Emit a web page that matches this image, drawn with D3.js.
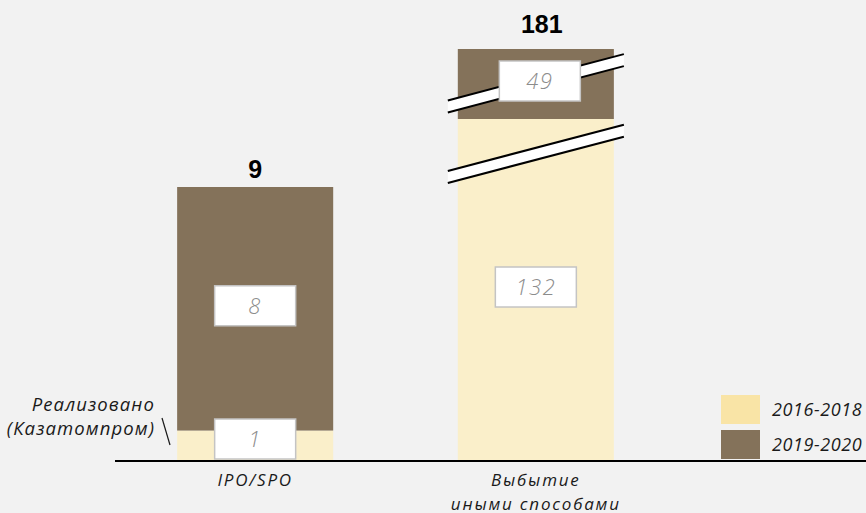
<!DOCTYPE html>
<html>
<head>
<meta charset="utf-8">
<script src="https://cdn.jsdelivr.net/npm/d3@7"></script>
<style>
  html, body { margin: 0; padding: 0; background: #f2f2f2; }
  svg { display: block; }
  text { font-family: "Open Sans", sans-serif; }
</style>
</head>
<body>
<div id="chart"></div>
<script>
// chart data
const categories = ['IPO/SPO', 'Выбытие иными способами'];
const categoryLines = [['IPO/SPO'], ['Выбытие', 'иными способами']];
const seriesNames = ['2016-2018', '2019-2020'];
const values2016 = [1, 132];
const values2019 = [8, 49];
const totals = [9, 181];
// where the broken scale is cut (in value units) for the second bar
const breakAt = [69, 157];

const width = 866;
const height = 513;

const barColors = ['#faefca', '#84725a'];
const legendColors = ['#f9e4a6', '#84725a'];

const svg = d3.select('#chart')
  .append('svg')
  .attr('width', width)
  .attr('height', height);

svg.append('rect')
  .attr('width', width)
  .attr('height', height)
  .attr('fill', '#f2f2f2');

const x = d3.scaleBand()
  .domain(categories)
  .range([121, 670])
  .paddingInner(0.444)
  .paddingOuter(0.2);

// piecewise scale: the tall bar is compressed above the break
const y = d3.scaleLinear()
  .domain([0, 9, 132, 181])
  .range([461, 187, 119, 49]);

// stack the data
const rows = categories.map((c, i) => ({ cat: c, a: values2016[i], b: values2019[i] }));
const stack = d3.stack().keys(['a', 'b'])(rows);

const bars = svg.append('g');
stack.forEach((layer, li) => {
  bars.selectAll('.seg' + li)
    .data(layer)
    .join('rect')
    .attr('x', d => x(d.data.cat))
    .attr('y', d => y(d[1]))
    .attr('width', x.bandwidth())
    .attr('height', d => y(d[0]) - y(d[1]))
    .attr('fill', barColors[li]);
});

// break marks on the second bar
const slope = -0.263;
const bx0 = x(categories[1]) - 10;
const bx1 = x(categories[1]) + x.bandwidth() + 10;
const bcx = x(categories[1]) + x.bandwidth() / 2;
const gap = 12;
breakAt.forEach(v => {
  const cy = y(v);
  const yl = cy - slope * (bcx - bx0);
  const yr = cy + slope * (bx1 - bcx);
  const g = svg.append('g');
  g.append('path')
    .attr('d', `M${bx0},${yl - gap / 2}L${bx1},${yr - gap / 2}L${bx1},${yr + gap / 2}L${bx0},${yl + gap / 2}Z`)
    .attr('fill', '#ffffff');
  [-gap / 2, gap / 2].forEach(o => {
    g.append('line')
      .attr('x1', bx0).attr('y1', yl + o)
      .attr('x2', bx1).attr('y2', yr + o)
      .attr('stroke', '#000')
      .attr('stroke-width', 2);
  });
});

// value boxes
const boxW = 81, boxH = 40;
const baseY = y(0);
stack.forEach(layer => {
  layer.forEach(d => {
    const cx = x(d.data.cat) + x.bandwidth() / 2 + (d.data.cat === categories[1] && d[0] > 0 ? 4 : 0);
    let cy = (y(d[0]) + y(d[1])) / 2 - 3;
    if (cy + boxH / 2 > baseY - 2) cy = baseY - 2 - boxH / 2;
    svg.append('rect')
      .attr('x', cx - boxW / 2)
      .attr('y', cy - boxH / 2)
      .attr('width', boxW)
      .attr('height', boxH)
      .attr('fill', '#ffffff')
      .attr('stroke', '#c4c4c4')
      .attr('stroke-width', 1.5);
    svg.append('text')
      .attr('x', cx)
      .attr('y', cy)
      .attr('dy', '0.36em')
      .attr('text-anchor', 'middle')
      .attr('font-size', 22)
      .attr('font-weight', 300)
      .attr('letter-spacing', 1.5)
      .attr('font-style', 'italic')
      .attr('fill', '#8c8c8c')
      .text(d[1] - d[0]);
  });
});

// totals
svg.selectAll('.total')
  .data(categories)
  .join('text')
  .attr('x', (d, i) => x(d) + x.bandwidth() / 2 + (i === 0 ? 0 : 6))
  .attr('y', (d, i) => y(totals[i]) - (i === 0 ? 9 : 16))
  .attr('text-anchor', 'middle')
  .attr('font-weight', 'bold')
  .attr('font-size', 25)
  .attr('fill', '#000')
  .style('font-family', '"Liberation Sans", Arial, sans-serif')
  .text((d, i) => totals[i]);

// baseline
svg.append('line')
  .attr('x1', 115).attr('x2', width)
  .attr('y1', baseY).attr('y2', baseY)
  .attr('stroke', '#000')
  .attr('stroke-width', 2);

// category labels, one text per line
categories.forEach((c, i) => {
  categoryLines[i].forEach((line, j) => {
    svg.append('text')
      .attr('x', x(c) + x.bandwidth() / 2)
      .attr('y', 486 + j * 23.5)
      .attr('text-anchor', 'middle')
      .attr('font-size', 17)
      .attr('letter-spacing', 1.8)
      .attr('font-style', 'italic')
      .attr('fill', '#1a1a1a')
      .text(line);
  });
});

// annotation for the realised part
const note = svg.append('text')
  .attr('x', 155)
  .attr('y', 411)
  .attr('text-anchor', 'end')
  .attr('font-size', 18.5)
  .attr('letter-spacing', 1.1)
  .attr('font-style', 'italic')
  .attr('fill', '#1a1a1a');
note.append('tspan').attr('x', 155).text('Реализовано');
note.append('tspan').attr('x', 155).attr('dy', 23.5).text('(Казатомпром)');
svg.append('line')
  .attr('x1', 162).attr('y1', 418)
  .attr('x2', 170).attr('y2', 445)
  .attr('stroke', '#1a1a1a')
  .attr('stroke-width', 1.2);

// legend
const legend = svg.append('g').attr('transform', 'translate(721,395)');
seriesNames.forEach((s, i) => {
  legend.append('rect')
    .attr('x', 0)
    .attr('y', i * 35)
    .attr('width', 39)
    .attr('height', 29)
    .attr('fill', legendColors[i]);
  legend.append('text')
    .attr('x', 51)
    .attr('y', i * 35 + 15)
    .attr('dy', '0.35em')
    .attr('font-size', 18)
    .attr('letter-spacing', 0.6)
    .attr('font-style', 'italic')
    .attr('fill', '#1a1a1a')
    .text(s);
});
</script>
</body>
</html>
